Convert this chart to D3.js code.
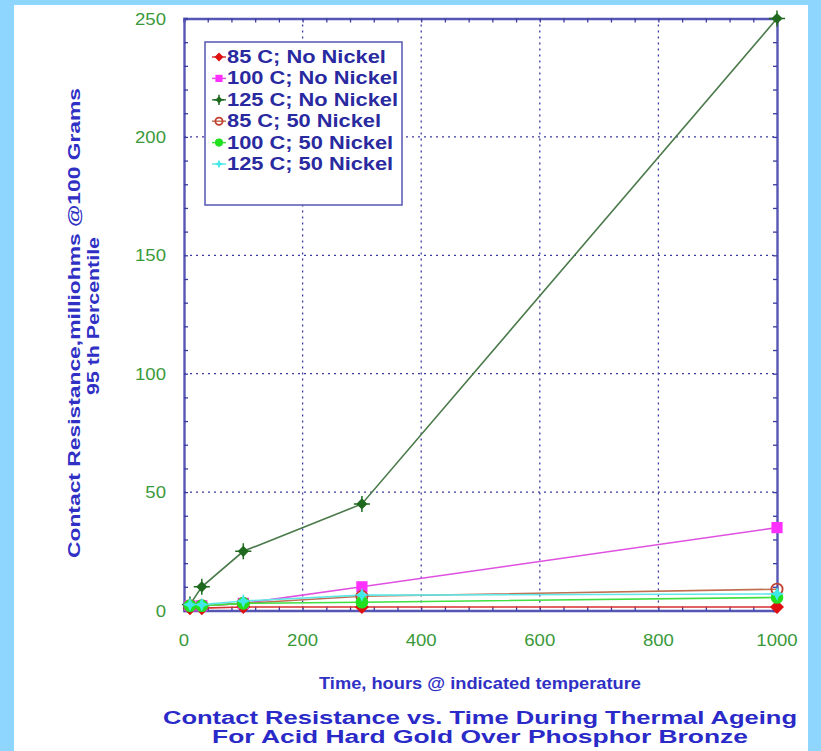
<!DOCTYPE html>
<html><head><meta charset="utf-8">
<script src="https://cdn.jsdelivr.net/npm/d3@7"></script>
<style>
html,body{margin:0;padding:0;background:#8fd6ff;}
svg{display:block;}
</style></head>
<body>
<svg id="chart" width="821" height="751"></svg>
<script>
const times = [10, 30, 100, 300, 1000];
const seriesNames = ["85 C; No Nickel","100 C; No Nickel","125 C; No Nickel","85 C; 50 Nickel","100 C; 50 Nickel","125 C; 50 Nickel"];
const n85 = [1, 1, 1.5, 1.5, 1.5];
const n100 = [2, 2, 3, 10, 35];
const n125 = [2.5, 10, 25, 45, 250];
const ni85 = [2, 2, 3, 6, 9];
const ni100 = [2, 2, 3, 3.5, 5.5];
const ni125 = [2.5, 2.5, 4, 6.5, 7];
const xTicks = [0, 200, 400, 600, 800, 1000];
const yTicks = [0, 50, 100, 150, 200, 250];

const seriesVals = [n85, n100, n125, ni85, ni100, ni125];
const lineColors = ["#d83030","#e050e0","#4a7a4a","#c07050","#40e040","#60e8e8"];
const markColors = ["#e01010","#ff30ff","#1f6a1f","#c04030","#20e020","#40e8e8"];
const markTypes = ["diamond","square","cross","circle","dot","star"];

const svg = d3.select("#chart");
svg.append("rect").attr("x",14).attr("y",5).attr("width",794).attr("height",746).attr("fill","#ffffff");

const x = d3.scaleLinear().domain([0,1000]).range([184,777]);
const y = d3.scaleLinear().domain([0,250]).range([610.5,18.5]);
const frameColor = "#5656b4";
const gridColor = "#3a3aa0";
const font = "Liberation Sans, Arial, Helvetica, sans-serif";

function stretch(sel, factor){
  sel.each(function(){ const L = this.getComputedTextLength();
    d3.select(this).attr("textLength", L*factor).attr("lengthAdjust","spacingAndGlyphs"); });
}
function fitTo(sel, width){
  sel.attr("textLength", width).attr("lengthAdjust","spacingAndGlyphs");
}

// grid
const g = svg.append("g");
g.selectAll(".gx").data(xTicks.slice(1,-1)).join("line")
  .attr("x1",d=>x(d)).attr("x2",d=>x(d)).attr("y1",y(250)).attr("y2",y(0))
  .attr("stroke",gridColor).attr("stroke-width",1.3).attr("stroke-dasharray","2,4");
g.selectAll(".gy").data(yTicks.slice(1,-1)).join("line")
  .attr("y1",d=>y(d)).attr("y2",d=>y(d)).attr("x1",x(0)).attr("x2",x(1000))
  .attr("stroke",gridColor).attr("stroke-width",1.3).attr("stroke-dasharray","2,4");

// axes with inward ticks
const minorX = d3.range(0,1001,40);
const minorY = d3.range(0,251,10);
const axB = d3.axisBottom(x).tickValues(minorX).tickSize(-4).tickFormat("");
const axT = d3.axisTop(x).tickValues(minorX).tickSize(-4).tickFormat("");
const axL = d3.axisLeft(y).tickValues(minorY).tickSize(-4).tickFormat("");
const axR = d3.axisRight(y).tickValues(minorY).tickSize(-4).tickFormat("");
function styleAx(sel){ sel.selectAll("path").attr("stroke",frameColor).attr("stroke-width",2.4);
  sel.selectAll("line").attr("stroke",gridColor).attr("stroke-width",1.3); }
svg.append("g").attr("transform",`translate(0,${y(0)})`).call(axB).call(styleAx);
svg.append("g").attr("transform",`translate(0,${y(250)})`).call(axT).call(styleAx);
svg.append("g").attr("transform",`translate(${x(0)},0)`).call(axL).call(styleAx);
svg.append("g").attr("transform",`translate(${x(1000)},0)`).call(axR).call(styleAx);

// tick labels
const tickColor = "#3a9a3a";
svg.selectAll(".xl").data(xTicks).join("text")
  .attr("x",d=>x(d)).attr("y",646).attr("text-anchor","middle")
  .attr("font-family",font).attr("font-size",16).attr("fill",tickColor).text(d=>d)
  .call(stretch, 1.16);
svg.selectAll(".yl").data(yTicks).join("text")
  .attr("x",166).attr("y",d=>y(d)+6).attr("text-anchor","end")
  .attr("font-family",font).attr("font-size",16).attr("fill",tickColor).text(d=>d)
  .call(stretch, 1.16);

// axis titles
const titleColor = "#3030c4";
svg.append("text").attr("x",480).attr("y",689).attr("text-anchor","middle")
  .attr("font-family",font).attr("font-size",17).attr("font-weight","bold").attr("fill",titleColor)
  .text("Time, hours @ indicated temperature").call(fitTo, 322);
const yt = svg.append("g").attr("transform","translate(80,323) rotate(-90)");
yt.append("text").attr("x",0).attr("y",0).attr("text-anchor","middle")
  .attr("font-family",font).attr("font-size",17).attr("font-weight","bold").attr("fill",titleColor)
  .text("Contact Resistance,milliohms @100 Grams").call(fitTo, 470);
yt.append("text").attr("x",7).attr("y",19).attr("text-anchor","middle")
  .attr("font-family",font).attr("font-size",17).attr("font-weight","bold").attr("fill",titleColor)
  .text("95 th Percentile").call(fitTo, 158);

// title
svg.append("text").attr("x",480).attr("y",724).attr("text-anchor","middle")
  .attr("font-family",font).attr("font-size",18).attr("font-weight","bold").attr("fill","#2a2ac8")
  .text("Contact Resistance vs. Time During Thermal Ageing").call(fitTo, 634);
svg.append("text").attr("x",480).attr("y",743).attr("text-anchor","middle")
  .attr("font-family",font).attr("font-size",18).attr("font-weight","bold").attr("fill","#2a2ac8")
  .text("For Acid Hard Gold Over Phosphor Bronze").call(fitTo, 536);

// markers
function drawMarker(sel, type, color, s){
  if(type==="diamond"){
    sel.append("path").attr("d",`M0,${-s}L${s},0L0,${s}L${-s},0Z`).attr("fill",color);
  } else if(type==="square"){
    sel.append("rect").attr("x",-s*0.8).attr("y",-s*0.8).attr("width",s*1.6).attr("height",s*1.6).attr("fill",color);
  } else if(type==="cross"){
    sel.append("path").attr("d",`M0,${-s*0.8}L${s*0.8},0L0,${s*0.8}L${-s*0.8},0Z`).attr("fill",color);
    sel.append("path").attr("d",`M0,${-s*1.15}V${s*1.15}M${-s*1.15},0H${s*1.15}`).attr("stroke",color).attr("stroke-width",1.5);
  } else if(type==="circle"){
    sel.append("circle").attr("r",s*0.8).attr("fill","none").attr("stroke",color).attr("stroke-width",1.8);
  } else if(type==="dot"){
    sel.append("circle").attr("r",s*0.9).attr("fill",color);
  } else if(type==="star"){
    sel.append("path").attr("d",`M0,${-s}L${s*0.3},${-s*0.3}L${s},0L${s*0.3},${s*0.3}L0,${s}L${-s*0.3},${s*0.3}L${-s},0L${-s*0.3},${-s*0.3}Z`).attr("fill",color);
  }
}

// lines
const line = d3.line().x((d,i)=>x(times[i])).y(d=>y(d));
seriesVals.forEach((vals,k)=>{
  svg.append("path").datum(vals).attr("d",line).attr("fill","none")
    .attr("stroke",lineColors[k]).attr("stroke-width",1.6);
});
seriesVals.forEach((vals,k)=>{
  vals.forEach((v,i)=>{
    const m = svg.append("g").attr("transform",`translate(${x(times[i])},${y(v)})`);
    drawMarker(m, markTypes[k], markColors[k], 7);
  });
});

// legend
const lg = svg.append("g");
lg.append("rect").attr("x",205).attr("y",42).attr("width",197).attr("height",163)
  .attr("fill","#ffffff").attr("stroke",frameColor).attr("stroke-width",1.5);
const legTexts = [];
seriesNames.forEach((name,k)=>{
  const yy = 57 + k*21.4;
  const m = lg.append("g").attr("transform",`translate(219,${yy})`);
  m.append("line").attr("x1",-7).attr("x2",7).attr("stroke",lineColors[k]).attr("stroke-width",1.5);
  drawMarker(m, markTypes[k], markColors[k], 4.5);
  legTexts.push(lg.append("text").attr("x",227).attr("y",yy+6).attr("font-family",font)
    .attr("font-size",17.5).attr("font-weight","bold").attr("fill","#2a2aa0").text(name).node());
});
const maxL = d3.max(legTexts, n=>n.getComputedTextLength());
const legFactor = 171 / maxL;
legTexts.forEach(n=>{ d3.select(n).attr("textLength", n.getComputedTextLength()*legFactor).attr("lengthAdjust","spacingAndGlyphs"); });
</script>
</body></html>
